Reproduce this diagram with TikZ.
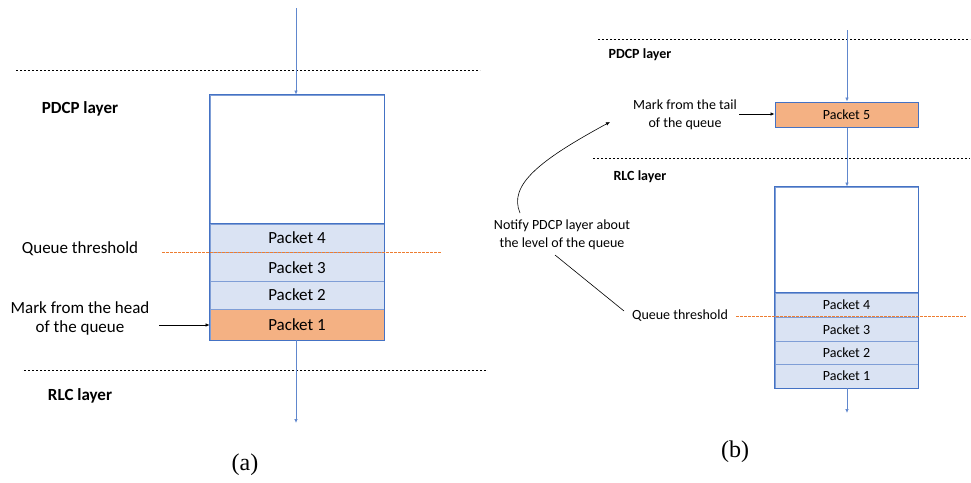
\documentclass[tikz,border=0pt]{standalone}
\usepackage{fontspec}
\setmainfont{Carlito}
\newfontfamily\capfont{Liberation Serif}
\usetikzlibrary{arrows.meta}
\definecolor{qblue}{HTML}{4472C4}
\definecolor{qsep}{HTML}{7F9ED6}
\definecolor{qfill}{HTML}{DAE3F3}
\definecolor{qorange}{HTML}{F4B183}
\definecolor{qthr}{RGB}{237,125,49}
\tikzset{
  flow/.style={draw=qblue!85, line width=0.7pt, -{Latex[length=4pt,width=3.5pt]}},
  layerline/.style={draw=black, line width=0.7pt, dash pattern=on 2pt off 2pt},
  thrline/.style={draw=qthr, line width=1pt, dash pattern=on 2.5pt off 1.5pt},
  qcell/.style={draw=qsep, line width=0.8pt, fill=qfill, inner sep=0pt, anchor=center},
  hot/.style={fill=qorange},
  bigtxt/.style={font=\fontsize{17}{19}\selectfont, align=center, inner sep=0pt},
  smalltxt/.style={font=\fontsize{14}{18}\selectfont, align=center, inner sep=0pt},
  note/.style={draw=black, line width=0.6pt, -{Latex[length=4pt,width=3.5pt]}},
}
\begin{document}
\begin{tikzpicture}[x=1pt, y=-1pt]
\useasboundingbox (0,0) rectangle (971,482);

% ---------------- (a) queue in the PDCP layer ----------------
\draw[layerline] (16,70) -- (480,70);
\draw[layerline] (24,370) -- (487,370);

\node[qcell, fill=white, minimum width=174pt, minimum height=129pt] (ae) at (297,159.5) {};
\node[qcell, minimum width=174pt, minimum height=28pt] (a4) at (297,238) {};
\node[qcell, minimum width=174pt, minimum height=29pt] (a3) at (297,266.5) {};
\node[qcell, minimum width=174pt, minimum height=28pt] (a2) at (297,295) {};
\node[qcell, hot, minimum width=174pt, minimum height=31pt] (a1) at (297,324.5) {};
\node[bigtxt] at (a4) {Packet 4};
\node[bigtxt] at (297,268) {Packet 3};
\node[bigtxt] at (a2) {Packet 2};
\node[bigtxt] at (a1) {Packet 1};
\draw[qblue, line width=1pt] (ae.north west) rectangle (a1.south east);
\draw[qblue, line width=1.2pt] (a4.north west) -- (a4.north east);

\coordinate (ain) at (296,8);
\coordinate (aout) at (296,423);
\draw[flow] (ain) -- (ae.north -| ain);
\draw[flow] (a1.south -| aout) -- (aout);

\node[bigtxt, font=\fontsize{17}{19}\bfseries] (apdcp) at (80,109) {PDCP layer};
\node[bigtxt] (athr) at (80,249) {Queue threshold};
\node[bigtxt] (ahead) at (80,318) {Mark from the head\\of the queue};
\node[bigtxt, font=\fontsize{17}{19}\bfseries] (arlc) at (80,396) {RLC layer};
\coordinate (aheadend) at (159,325);
\draw[note] (aheadend) -- (a1.west |- aheadend);
\node[font=\capfont\fontsize{24}{26}\selectfont, inner sep=0pt] (acap) at (245,465) {(a)};

% ---------------- (b) queue in the RLC layer ----------------
\draw[layerline] (598,39) -- (970,39);
\draw[layerline] (593,158) -- (970,158);

\node[qcell, hot, draw=qblue, line width=1pt, minimum width=143pt, minimum height=25pt] (p5) at (846.5,114.5) {};
\node[smalltxt] at (p5) {Packet 5};

\node[qcell, fill=white, minimum width=143pt, minimum height=106pt] (be) at (846.5,240) {};
\node[qcell, minimum width=143pt, minimum height=24pt] (b4) at (846.5,305) {};
\node[qcell, minimum width=143pt, minimum height=24pt] (b3) at (846.5,329) {};
\node[qcell, minimum width=143pt, minimum height=23pt] (b2) at (846.5,352.5) {};
\node[qcell, minimum width=143pt, minimum height=24pt] (b1) at (846.5,376) {};
\node[smalltxt] at (b4) {Packet 4};
\node[smalltxt] at (846.5,330) {Packet 3};
\node[smalltxt] at (b2) {Packet 2};
\node[smalltxt] at (b1) {Packet 1};
\draw[qblue, line width=1pt] (be.north west) rectangle (b1.south east);
\draw[qblue, line width=1.2pt] (b4.north west) -- (b4.north east);

\coordinate (bin) at (847,30);
\coordinate (bout) at (847,413);
\draw[flow] (bin) -- (p5.north -| bin);
\draw[flow] (p5.south -| bin) -- (be.north -| bin);
\draw[flow] (b1.south -| bout) -- (bout);

\node[smalltxt, font=\fontsize{14}{18}\bfseries] (bpdcp) at (640,55) {PDCP layer};
\node[smalltxt] (btail) at (685,115) {Mark from the tail\\of the queue};
\node[smalltxt, font=\fontsize{14}{18}\bfseries] (brlc) at (640,177) {RLC layer};
\node[smalltxt] (bnotify) at (562,235) {Notify PDCP layer about\\the level of the queue};
\node[smalltxt] (bthr) at (680,316) {Queue threshold};
\coordinate (btailend) at (739,114);
\draw[note] (btailend) -- (p5.west |- btailend);

\coordinate (nstart) at (520,213);
\coordinate (ntip) at (610,122);
\draw[note] (nstart) .. controls (508,185) and (540,160) .. (ntip);
\coordinate (lstart) at (555,255);
\coordinate (lend) at (624,311);
\draw[black, line width=0.6pt] (lstart) -- (lend);

\node[font=\capfont\fontsize{24}{26}\selectfont, inner sep=0pt] (bcap) at (735,452) {(b)};

% queue thresholds, on top of everything
\coordinate (athrl) at (162,252);
\coordinate (athrr) at (442,252);
\coordinate (bthrl) at (736,316);
\coordinate (bthrr) at (966,316);
\draw[thrline] (athrl) -- (athrr);
\draw[thrline] (bthrl) -- (bthrr);
\end{tikzpicture}
\end{document}
